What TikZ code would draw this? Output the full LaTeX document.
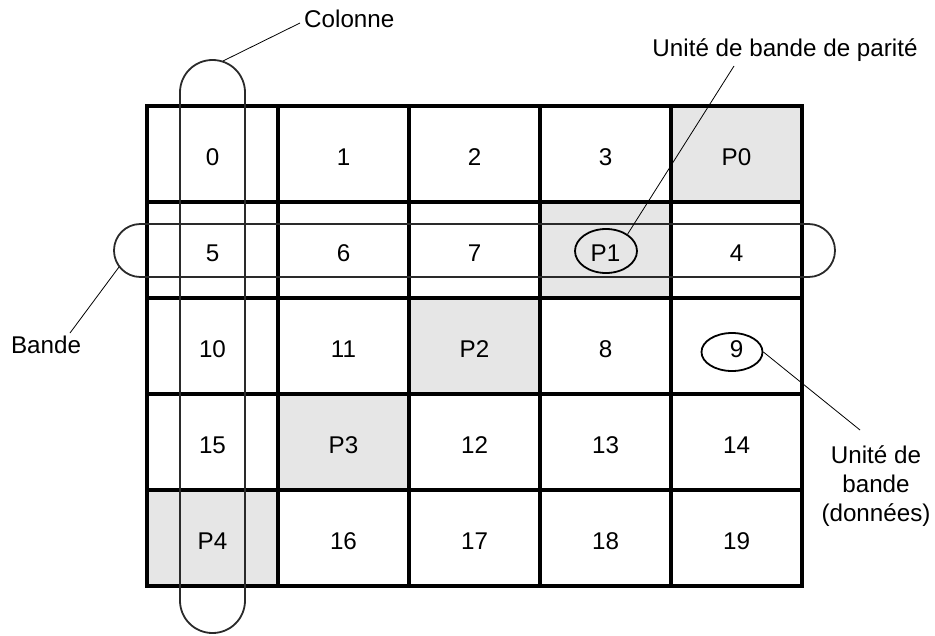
\documentclass[tikz,border=0pt]{standalone}
\usepackage{fontspec}
\setmainfont{Liberation Sans}
\usetikzlibrary{shapes.geometric}
\definecolor{parity}{HTML}{E6E6E6}
\definecolor{capline}{HTML}{2A2A2A}
\begin{document}
\begin{tikzpicture}[x=1pt,y=-1pt,
  every node/.style={font=\fontsize{24.2}{29}\selectfont},
  cell/.style={draw, line width=3.4pt, minimum width=131pt, minimum height=96pt, inner sep=0pt, anchor=center, text height=23pt, text depth=0pt},
  paritycell/.style={cell, fill=parity},
  capsule/.style={draw=capline, line width=1.8pt},
  unit/.style={draw, ellipse, line width=1.8pt, inner sep=0pt},
  leader/.style={line width=0.8pt},
  lbl/.style={inner sep=0pt}]
\useasboundingbox (0,0) rectangle (935,635);
% row 0
\node[cell] (c00) at (212.5,154) {0};
\node[cell] (c01) at (343.5,154) {1};
\node[cell] (c02) at (474.5,154) {2};
\node[cell] (c03) at (605.5,154) {3};
\node[paritycell] (c04) at (736.5,154) {P0};
% row 1
\node[cell] (c10) at (212.5,250) {5};
\node[cell] (c11) at (343.5,250) {6};
\node[cell] (c12) at (474.5,250) {7};
\node[paritycell] (c13) at (605.5,250) {P1};
\node[cell] (c14) at (736.5,250) {4};
% row 2
\node[cell] (c20) at (212.5,346) {10};
\node[cell] (c21) at (343.5,346) {11};
\node[paritycell] (c22) at (474.5,346) {P2};
\node[cell] (c23) at (605.5,346) {8};
\node[cell] (c24) at (736.5,346) {9};
% row 3
\node[cell] (c30) at (212.5,442) {15};
\node[paritycell] (c31) at (343.5,442) {P3};
\node[cell] (c32) at (474.5,442) {12};
\node[cell] (c33) at (605.5,442) {13};
\node[cell] (c34) at (736.5,442) {14};
% row 4
\node[paritycell] (c40) at (212.5,538) {P4};
\node[cell] (c41) at (343.5,538) {16};
\node[cell] (c42) at (474.5,538) {17};
\node[cell] (c43) at (605.5,538) {18};
\node[cell] (c44) at (736.5,538) {19};
% capsules
\draw[capsule, rounded corners=32.4pt] (180,60) rectangle (245,633);
\draw[capsule, rounded corners=26.4pt] (114,224) rectangle (835,277);
% unit ellipses
\node[unit, minimum width=62pt, minimum height=44pt] (e1) at (606,251) {};
\node[unit, minimum width=61pt, minimum height=38pt] (e9) at (732,352) {};
% labels
\node[lbl, anchor=base west] (colonne) at (304,27) {Colonne};
\node[lbl, anchor=base] (parlbl) at (785,56) {Unité de bande de parité};
\node[lbl, anchor=base] (bande) at (46,353) {Bande};
\node[lbl, align=center, anchor=north] (datalbl) at (876,445) {Unité de\\bande\\(données)};
% leader ends
\coordinate (coltop) at (223,61);
\coordinate (colend) at (300,23);
\coordinate (parend) at (734,66);
\coordinate (bandpt) at (119,267);
\coordinate (bandend) at (70,333);
\coordinate (dataend) at (860,430);
\draw[leader] (coltop) -- (colend);
\draw[leader] (e1.38) -- (parend);
\draw[leader] (bandpt) -- (bandend);
\draw[leader] (e9.east) -- (dataend);
\end{tikzpicture}
\end{document}
